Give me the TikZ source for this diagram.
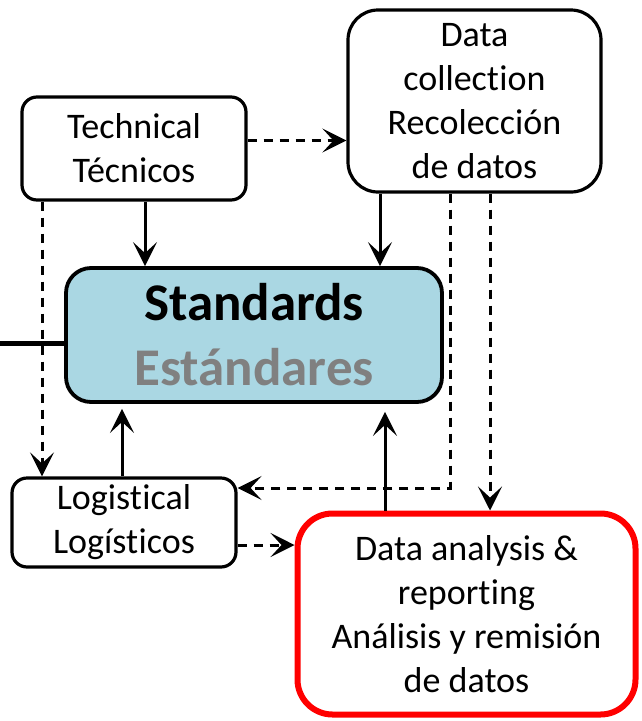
\documentclass[tikz,border=0pt]{standalone}
\usepackage{fontspec}
\setmainfont[RawFeature={-liga;-clig;-dlig;-calt}]{Carlito}
\usetikzlibrary{arrows.meta,calc}
\definecolor{stdblue}{RGB}{170,215,227}
\definecolor{stdgray}{RGB}{128,128,128}
\definecolor{dared}{RGB}{255,0,0}
\newcommand{\nolig}{\kern0.5pt}
\begin{document}
\begin{tikzpicture}[x=1pt,y=1pt,
  box/.style={draw, line width=3.2pt, align=center, inner sep=0pt, font=\fontsize{36}{44}\selectfont},
  tip/.style={-{Stealth[length=24pt,width=24pt,inset=11pt]}},
  arr/.style={line width=3pt, tip},
  darr/.style={line width=3pt, dash pattern=on 9pt off 7pt, tip}
]
\useasboundingbox (0,0) rectangle (641,-721);
\node[box, rounded corners=15pt, minimum width=224pt, minimum height=103pt] (tech) at (134,-148.5) {Technical\\Técnicos};
\node[box, rounded corners=30pt, minimum width=253pt, minimum height=182pt] (dc) at (474.5,-101) {Data\\collect\nolig ion\\Recolección\\de datos};
\node[box, rounded corners=25pt, line width=3.8pt, fill=stdblue, minimum width=376pt, minimum height=134pt, font=\fontsize{53}{65}\selectfont\bfseries] (std) at (254,-335) {Standards\\\textcolor{stdgray}{Estándares}};
\node[box, rounded corners=15pt, minimum width=224pt, minimum height=89pt] (logi) at (124,-522.5) {Logist\nolig ical\\Logíst\nolig icos};
\node[box, draw=dared, rounded corners=35pt, line width=6pt, minimum width=338pt, minimum height=201pt] (da) at (466.5,-614) {Data analysis \&\\report\nolig ing\\Análisis y remisión\\de datos};
% thick line at left
\coordinate (lft) at (0,-343);
\draw[line width=5pt] (lft) -- (lft -| std.west);
% connectors
\coordinate (t1) at ($(tech.east)+(0,8)$);
\draw[darr] (t1) -- (t1 -| dc.west);
\coordinate (t2) at ($(tech.south)+(11,0)$);
\draw[arr] (t2) -- (t2 |- std.north);
\coordinate (d1) at ($(dc.south)+(-94.5,0)$);
\draw[arr] (d1) -- (d1 |- std.north);
\coordinate (t3) at ($(tech.south)+(-92,0)$);
\draw[darr] (t3) -- (t3 |- logi.north);
\coordinate (d2) at ($(dc.south)+(-24.5,0)$);
\coordinate (l1) at ($(logi.east)+(0,34.5)$);
\draw[darr] (d2) |- (l1);
\coordinate (d3) at ($(dc.south)+(15.5,0)$);
\draw[darr] (d3) -- (d3 |- da.north);
\coordinate (l2) at ($(logi.north)+(-2,0)$);
\draw[arr, shorten >=5pt] (l2) -- (l2 |- std.south);
\coordinate (a1) at ($(da.north)+(-81.5,0)$);
\draw[arr, shorten >=8pt] (a1) -- (a1 |- std.south);
\coordinate (l3) at ($(logi.east)+(0,-22.5)$);
\draw[darr] (l3) -- (l3 -| da.west);
\end{tikzpicture}
\end{document}
